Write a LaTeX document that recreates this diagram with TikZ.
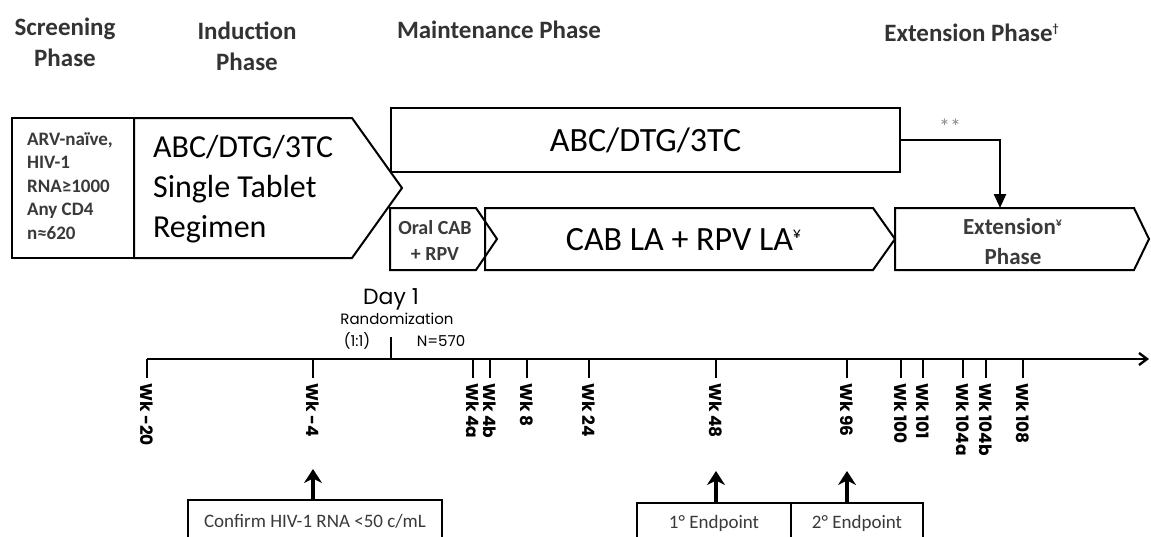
\documentclass[tikz,border=0pt]{standalone}
\usepackage{fontspec}
\setmainfont{Carlito}
\newfontfamily\gothic{Poppins}
\usepackage{xcolor}
\usetikzlibrary{arrows.meta, positioning}
\definecolor{hgray}{HTML}{333333}
\definecolor{tgray}{HTML}{3A3A3A}
\definecolor{sgray}{HTML}{8A8A8A}

\begin{document}
\begin{tikzpicture}[x=0.5pt, y=-0.5pt,
  box/.style={draw=black, line width=1pt},
  phase/.style={font=\fontsize{12.5}{15.5}\selectfont\bfseries, text=hgray, align=center},
  wklab/.style={font=\gothic\bfseries\fontsize{8.5}{10}\selectfont, rotate=-90, anchor=west, inner sep=0pt},
  uparrow/.style={line width=1.6pt, -{Stealth[length=7pt, width=9pt]}},
  lowbox/.style={draw=black, line width=0.9pt, font=\fontsize{9.5}{11}\selectfont, text=tgray, anchor=north, minimum height=21pt, inner sep=0pt}
]

  %% Page
  \clip (0,0) rectangle (1151,536);
  \fill[white] (0,0) rectangle (1151,536);

  %% Phase headers
  \node[phase] (hscr) at (65,42) {Screening\\Phase};
  \node[phase] (hind) at (247,46) {Induction\\Phase};
  \node[phase] (hmnt) at (499,30) {Maintenance Phase};
  \node[phase] (hext) at (972,33) {Extension Phase\textsuperscript{\fontsize{6}{6}\selectfont †}};

  %% Screening and induction
  \draw[box] (12,118) rectangle (134,258);
  \node[font=\fontsize{9.5}{11.75}\selectfont\bfseries, text=tgray, align=left, anchor=west] (elig) at (20,186)
    {ARV-naïve,\\HIV-1\\RNA≥1000\\Any CD4\\n≈620};
  \draw[box] (134,118) -- (352,118) -- (402,188) -- (352,258) -- (134,258) -- cycle;
  \node[font=\fontsize{16}{20}\selectfont, align=left, anchor=west] (indtxt) at (146,189)
    {ABC/DTG/3TC\\Single Tablet\\Regimen};

  %% Maintenance arms
  \node[box, minimum width=254.5pt, minimum height=32pt, inner sep=0pt, font=\fontsize{17}{20}\selectfont] (mtop) at (645.5,140) {ABC/DTG/3TC};
  \draw[box] (390,208) -- (476,208) -- (497,239) -- (476,270) -- (390,270) -- cycle;
  \node[font=\fontsize{10}{13}\selectfont\bfseries, align=center, text=tgray] (oraltxt) at (435,240) {Oral CAB\\+ RPV};
  \draw[box] (485,208) -- (873,208) -- (895,239) -- (873,270) -- (485,270) -- cycle;
  \node[font=\fontsize{17}{20}\selectfont] (cabtxt) at (684,240) {CAB LA + RPV LA\textsuperscript{\fontsize{8}{8}\selectfont ¥}};

  %% Extension
  \draw[box] (895,208) -- (1134,208) -- (1149,239) -- (1134,270) -- (895,270) -- cycle;
  \node[font=\fontsize{11.5}{15}\selectfont\bfseries, align=center, text=tgray] (exttxt) at (1013,242) {Extension\textsuperscript{\fontsize{6}{6}\selectfont ¥}\\Phase};
  \coordinate (extin) at (1000,208);
  \draw[line width=1.2pt, -{Triangle[length=7pt, width=6pt]}] (mtop.east) -| (extin);
  \node[text=sgray, font=\fontsize{11}{12}\selectfont] (star) at (950,127) {**};

  %% Day 1
  \node[font=\gothic\fontsize{11}{12}\selectfont] (day1) at (391,299) {Day 1};
  \node[font=\gothic\fontsize{7.5}{9}\selectfont] (rand) at (397,319) {Randomization};
  \node[font=\gothic\fontsize{7.5}{9}\selectfont] (ratio) at (357,341) {(1:1)};
  \node[font=\gothic\fontsize{7.5}{9}\selectfont] (nrand) at (441,341) {N=570};

  %% Timeline
  \coordinate (tl0) at (147,359);
  \coordinate (tlend) at (1149,359);
  \coordinate (d1) at (391,359);
  \coordinate (d1top) at (391,337);
  \draw[line width=1.2pt, -{Straight Barb[length=4pt, width=6pt]}] (tl0) -- (tlend);
  \draw[line width=1.2pt] (d1) -- (d1top);
  \foreach \x/\lab/\nm in {147/{Wk -20}/m20, 313/{Wk -4}/m4, 473/{Wk 4a}/w4a, 490/{Wk 4b}/w4b,
      527/{Wk 8}/w8, 589/{Wk 24}/w24, 716/{Wk 48}/w48, 847/{Wk 96}/w96, 901/{Wk 100}/w100,
      923/{Wk 101}/w101, 963/{Wk 104a}/w104a, 986/{Wk 104b}/w104b, 1023/{Wk 108}/w108}{
    \draw[line width=1.2pt] (\x,359) -- (\x,378);
    \node[wklab] (\nm) at (\x,383) {\lab};
  }

  %% Visits below
  \node[lowbox, minimum width=127pt] (conf) at (315,499) {Confirm HIV-1 RNA <50 c/mL};
  \node[lowbox, minimum width=77pt] (ep1) at (714,502) {1° Endpoint};
  \node[lowbox, minimum width=66pt] (ep2) at (857,502) {2° Endpoint};
  \coordinate (cftip) at (313,469);
  \coordinate (ep1tip) at (716,471);
  \coordinate (ep2tip) at (847,471);
  \draw[uparrow] (cftip |- conf.north) -- (cftip);
  \draw[uparrow] (ep1tip |- ep1.north) -- (ep1tip);
  \draw[uparrow] (ep2tip |- ep2.north) -- (ep2tip);

\end{tikzpicture}
\end{document}
